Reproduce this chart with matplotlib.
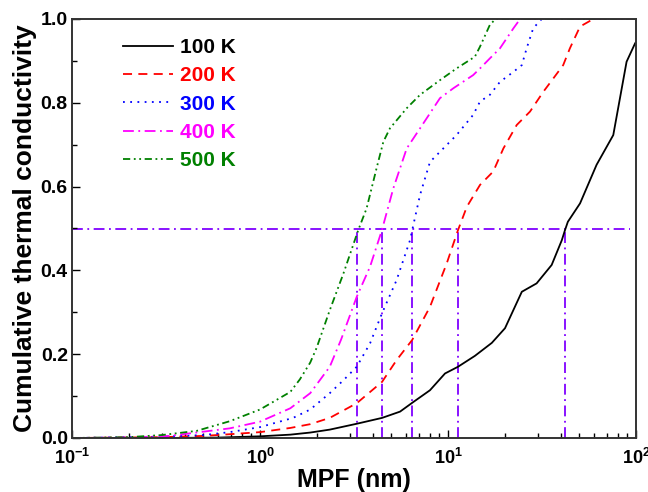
import matplotlib
matplotlib.use("Agg")
import matplotlib.pyplot as plt
from matplotlib.ticker import LogLocator, MultipleLocator, NullFormatter

plt.rcParams['font.family'] = ['Liberation Sans', 'DejaVu Sans']
plt.rcParams['font.weight'] = 'bold'
plt.rcParams['mathtext.fontset'] = 'custom'
plt.rcParams['mathtext.rm'] = 'Liberation Sans:bold'
plt.rcParams['mathtext.it'] = 'Liberation Sans:bold'
plt.rcParams['mathtext.bf'] = 'Liberation Sans:bold'
plt.rcParams['mathtext.default'] = 'regular'

# ---- data ----
mpf_100 = [0.1, 0.3, 0.6, 1.0, 1.45, 1.85, 2.35, 3.27, 4.46, 5.56, 6.45, 8.02, 9.64, 11.3,
           13.9, 17.1, 20.1, 24.7, 29.6, 35.6, 40.3, 41.9, 43.4, 50.4, 61.7, 75.7, 89.1, 98.9, 100]
kappa_100 = [0.0, 0.0, 0.001, 0.004, 0.008, 0.013, 0.02, 0.034, 0.048, 0.063, 0.084, 0.114, 0.154, 0.17,
             0.196, 0.227, 0.262, 0.349, 0.369, 0.413, 0.472, 0.496, 0.516, 0.56, 0.652, 0.723, 0.898, 0.942, 0.945]

mpf_200 = [0.1, 0.3, 0.5, 0.69, 1.0, 1.45, 1.85, 2.35, 3.27, 4.46, 5.33, 6.45, 8.02, 9.85, 11.3,
           12.6, 14.8, 17.4, 19.7, 23.2, 27.3, 32.1, 36.3, 41.0, 44.5, 50.4, 59.3, 100]
kappa_200 = [0.0, 0.002, 0.005, 0.009, 0.014, 0.024, 0.033, 0.048, 0.083, 0.134, 0.186, 0.234, 0.313, 0.417, 0.496,
             0.552, 0.604, 0.636, 0.691, 0.747, 0.779, 0.826, 0.858, 0.89, 0.93, 0.982, 1.0, 1.0]

mpf_300 = [0.1, 0.3, 0.5, 0.69, 1.0, 1.5, 1.85, 2.35, 2.78, 3.27, 3.85, 4.46, 5.33, 6.28, 6.45,
           7.1, 8.02, 9.06, 11.1, 13.6, 14.8, 16.7, 18.9, 22.3, 24.7, 26.2, 28.4, 31.5, 100]
kappa_300 = [0.0, 0.003, 0.007, 0.014, 0.026, 0.048, 0.068, 0.107, 0.138, 0.17, 0.226, 0.298, 0.377, 0.472, 0.496,
             0.58, 0.659, 0.683, 0.723, 0.771, 0.803, 0.819, 0.85, 0.874, 0.89, 0.93, 0.978, 1.0, 1.0]

mpf_400 = [0.1, 0.2, 0.33, 0.69, 1.0, 1.45, 1.85, 2.35, 2.7, 3.27, 3.85, 4.45, 5.12, 6.03, 7.1,
           9.06, 10.7, 13.6, 14.8, 16.7, 18.9, 22.3, 24.2, 100]
kappa_400 = [0.0, 0.001, 0.005, 0.023, 0.039, 0.071, 0.107, 0.17, 0.235, 0.337, 0.409, 0.496, 0.596, 0.691, 0.739,
             0.811, 0.835, 0.866, 0.882, 0.906, 0.93, 0.978, 1.0, 1.0]

mpf_500 = [0.1, 0.2, 0.3, 0.46, 0.69, 1.0, 1.45, 1.63, 1.85, 2.0, 2.35, 2.78, 3.33, 3.69, 4.17,
           4.53, 4.91, 6.03, 7.1, 9.06, 11.1, 13.9, 14.8, 16.7, 17.9, 100]
kappa_500 = [0.0, 0.002, 0.007, 0.017, 0.04, 0.068, 0.11, 0.14, 0.18, 0.215, 0.305, 0.393, 0.496, 0.548, 0.644,
             0.707, 0.739, 0.787, 0.819, 0.854, 0.882, 0.91, 0.934, 0.986, 1.0, 1.0]

labels = ['100 K', '200 K', '300 K', '400 K', '500 K']
colors = ['black', '#FF0000', '#0000FF', '#FF00FF', '#008000']

half_level = 0.5
half_mpf = [3.3, 4.45, 6.45, 11.3, 42.0]
hline_end = 93.0
ref_color = '#7F00FF'

# ---- figure ----
fig = plt.figure(figsize=(6.48, 4.92), dpi=100)
ax = fig.add_axes([72 / 648, 54 / 492, 564 / 648, 419 / 492])

styles = [
    dict(linestyle='-'),
    dict(linestyle=(0, (5, 3.5))),
    dict(linestyle=(0, (1, 3))),
    dict(linestyle=(0, (6, 2.5, 1, 2.5))),
    dict(linestyle=(0, (4, 2, 1, 2, 1, 2))),
]
series = [(mpf_100, kappa_100), (mpf_200, kappa_200), (mpf_300, kappa_300),
          (mpf_400, kappa_400), (mpf_500, kappa_500)]

# reference lines
ax.hlines(half_level, 0.1, hline_end, colors=ref_color, linewidth=1.3,
          linestyles=[(0, (6, 2.5, 1, 2.5))], zorder=1)
ax.vlines(half_mpf, 0, half_level, colors=ref_color, linewidth=1.3,
          linestyles=[(0, (6, 2.5, 1, 2.5))], zorder=1)

for (x, y), lab, c, st in zip(series, labels, colors, styles):
    ax.plot(x, y, color=c, linewidth=1.3, label=lab, **st, zorder=2)

ax.set_xscale('log')
ax.set_xlim(0.1, 100)
ax.set_ylim(0, 1.0)

ax.xaxis.set_major_locator(LogLocator(base=10, numticks=10))
ax.xaxis.set_minor_locator(LogLocator(base=10, subs=range(2, 10), numticks=20))
ax.xaxis.set_minor_formatter(NullFormatter())
ax.yaxis.set_major_locator(MultipleLocator(0.2))
ax.yaxis.set_minor_locator(MultipleLocator(0.1))
ax.yaxis.set_major_formatter(plt.FuncFormatter(lambda v, p: f'{v:.1f}'))

ax.tick_params(which='both', direction='in', top=False, right=False, labelsize=14, width=1.0)
ax.tick_params(which='major', length=6)
ax.tick_params(which='minor', length=3.5)
ax.tick_params(axis='y', which='major', pad=3)
ax.tick_params(axis='x', which='major', pad=7, labelsize=13)
for lab in ax.get_xticklabels() + ax.get_yticklabels():
    lab.set_fontweight('bold')
for sp in ax.spines.values():
    sp.set_linewidth(1.4)
    sp.set_color('#333333')

ax.set_xlabel('MPF (nm)', fontsize=18, fontweight='bold', labelpad=0)
ax.set_ylabel('Cumulative thermal conductivity', fontsize=19, fontweight='bold', labelpad=3)

leg = ax.legend(loc='upper left', bbox_to_anchor=(0.09, 0.955), frameon=False,
                fontsize=15, handlelength=2.4, handletextpad=0.35, labelspacing=0.45,
                borderpad=0, borderaxespad=0)
for t, c in zip(leg.get_texts(), colors):
    t.set_color(c)
    t.set_fontweight('bold')

fig.savefig('out.png', dpi=100)
